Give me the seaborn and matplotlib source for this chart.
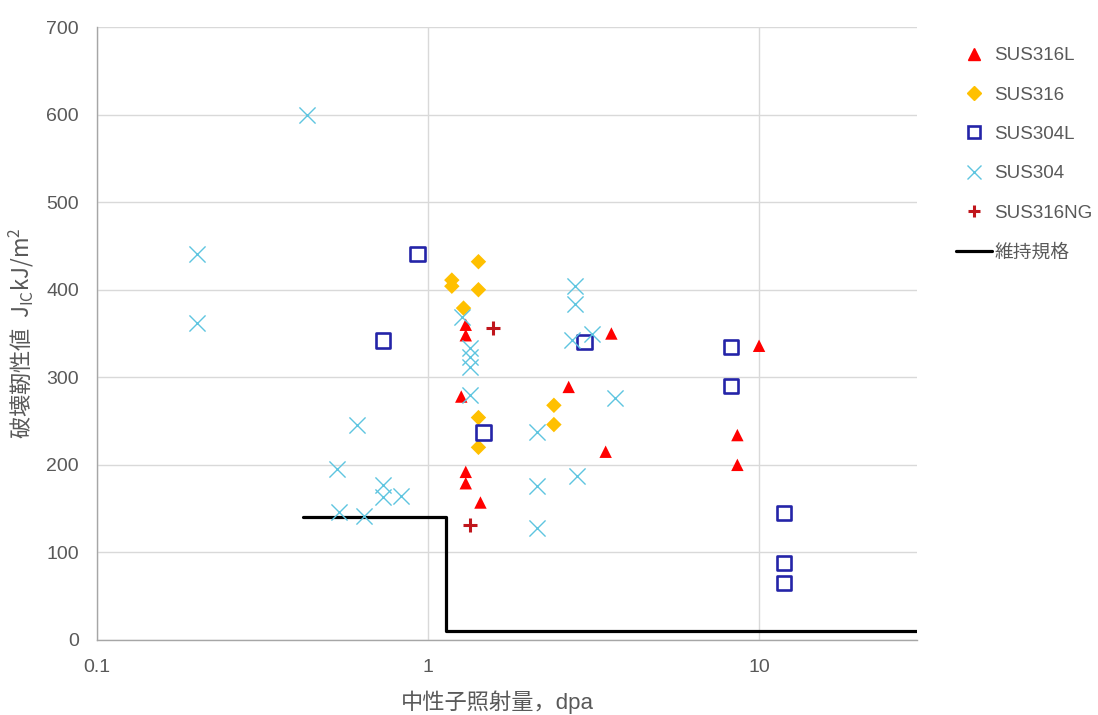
import matplotlib
matplotlib.use("Agg")
import matplotlib.pyplot as plt
from matplotlib.lines import Line2D
import seaborn as sns
import pandas as pd

# Fracture toughness J_IC vs neutron dose, per stainless steel grade
sus316l_x = [1.30, 1.30, 1.26, 1.30, 1.30, 1.44, 2.66, 3.58, 3.44, 10.0, 8.6, 8.6]
sus316l_y = [360, 348, 278, 192, 179, 157, 289, 350, 215, 336, 234, 200]

sus316_x = [1.42, 1.18, 1.18, 1.42, 1.28, 1.42, 1.42, 2.40, 2.40]
sus316_y = [432, 411, 404, 400, 379, 254, 220, 268, 246]

sus304l_x = [0.93, 0.73, 1.47, 2.97, 8.24, 8.24, 11.9, 11.9, 11.9]
sus304l_y = [441, 342, 237, 340, 335, 290, 145, 88, 65]

sus304_x = [0.43, 0.20, 0.20, 0.61, 0.53, 0.54, 0.64, 0.73, 0.73, 0.83,
            1.27, 1.34, 1.34, 1.34, 1.34, 2.77, 2.77, 2.73, 3.12, 3.68,
            2.13, 2.81, 2.13, 2.13]
sus304_y = [600, 441, 362, 245, 195, 146, 142, 177, 163, 164,
            369, 333, 323, 312, 280, 404, 384, 343, 349, 276,
            238, 187, 176, 128]

sus316ng_x = [1.57, 1.34]
sus316ng_y = [356, 131]

# maintenance standard (step line)
limit_x = [0.42, 1.13, 1.13, 30]
limit_y = [140, 140, 10, 10]

series_names = ["SUS316L", "SUS316", "SUS304L", "SUS304", "SUS316NG"]
limit_name = "維持規格"

sns.set_style("white")
plt.rcParams["font.family"] = ["Liberation Sans", "Noto Sans CJK JP"]
plt.rcParams["mathtext.fontset"] = "custom"
plt.rcParams["mathtext.rm"] = "Noto Sans CJK JP"
plt.rcParams["mathtext.it"] = "Noto Sans CJK JP"

TXT = "#595959"
FS = 13.5

fig, ax = plt.subplots(figsize=(10.98, 7.15), dpi=100)
fig.subplots_adjust(left=97/1098, right=917/1098, bottom=1-640/715, top=1-27/715)

styles = {
    "SUS316L": dict(marker="^", color="#FF0000", s=80, edgecolor="none"),
    "SUS316": dict(marker="D", color="#FFC000", s=62, edgecolor="none"),
    "SUS304L": dict(marker="s", facecolor="none", edgecolor="#2424A8", s=105, linewidth=1.9),
    "SUS304": dict(marker="x", color="#5EC5E0", s=135, linewidth=1.0),
    "SUS316NG": dict(marker="+", color="#C0161C", s=110, linewidth=2.2),
}
data = {
    "SUS316L": (sus316l_x, sus316l_y),
    "SUS316": (sus316_x, sus316_y),
    "SUS304L": (sus304l_x, sus304l_y),
    "SUS304": (sus304_x, sus304_y),
    "SUS316NG": (sus316ng_x, sus316ng_y),
}

for name in series_names:
    xs, ys = data[name]
    df = pd.DataFrame({"dose": xs, "jic": ys})
    sns.scatterplot(data=df, x="dose", y="jic", ax=ax, zorder=3, **styles[name])

sns.lineplot(x=limit_x, y=limit_y, sort=False, estimator=None, ax=ax,
             color="black", linewidth=2.3, zorder=2)

ax.set_xscale("log")
ax.set_xlim(0.1, 30)
ax.set_ylim(0, 700)
ax.set_xticks([0.1, 1, 10])
ax.set_xticklabels(["0.1", "1", "10"])
ax.minorticks_off()
ax.set_yticks(range(0, 701, 100))

ax.grid(True, which="major", color="#d9d9d9", linewidth=1.0)
ax.set_axisbelow(True)
for side in ["right", "top"]:
    ax.spines[side].set_visible(False)
for side in ["left", "bottom"]:
    ax.spines[side].set_color("#a6a6a6")
    ax.spines[side].set_linewidth(1.0)
ax.tick_params(length=0, labelsize=14, labelcolor=TXT)
ax.tick_params(axis="x", pad=14)
ax.tick_params(axis="y", pad=13)

ax.set_xlabel("中性子照射量，dpa", fontsize=16, color=TXT)
ax.xaxis.set_label_coords(0.488, -0.083)
ax.set_ylabel("破壊靭性値  J$_{\\mathrm{IC}}$kJ/m$^{2}$", fontsize=16, color=TXT,
              family="Noto Sans CJK JP")
ax.yaxis.set_label_coords(-0.074, 0.5)

handles = []
for name in series_names:
    st = styles[name]
    if name == "SUS304L":
        h = Line2D([], [], linestyle="none", marker="s", markerfacecolor="none",
                   markeredgecolor=st["edgecolor"], markeredgewidth=1.9, markersize=9)
    elif name in ("SUS304", "SUS316NG"):
        h = Line2D([], [], linestyle="none", marker=st["marker"], color=st["color"],
                   markeredgewidth=st["linewidth"], markersize=10 if name == "SUS304" else 8)
    else:
        h = Line2D([], [], linestyle="none", marker=st["marker"], color=st["color"],
                   markersize=7 if name == "SUS316" else 8)
    handles.append(h)
handles.append(Line2D([], [], color="black", linewidth=2.3))

leg = fig.legend(handles, series_names + [limit_name], loc="upper left",
                 bbox_to_anchor=(956/1098, 1 - 47/715), bbox_transform=fig.transFigure,
                 frameon=False, fontsize=FS, handlelength=1.9, handletextpad=0.15,
                 labelspacing=1.19, borderpad=0, borderaxespad=0)
for t in leg.get_texts():
    t.set_color(TXT)

fig.savefig("out.png", dpi=100)
